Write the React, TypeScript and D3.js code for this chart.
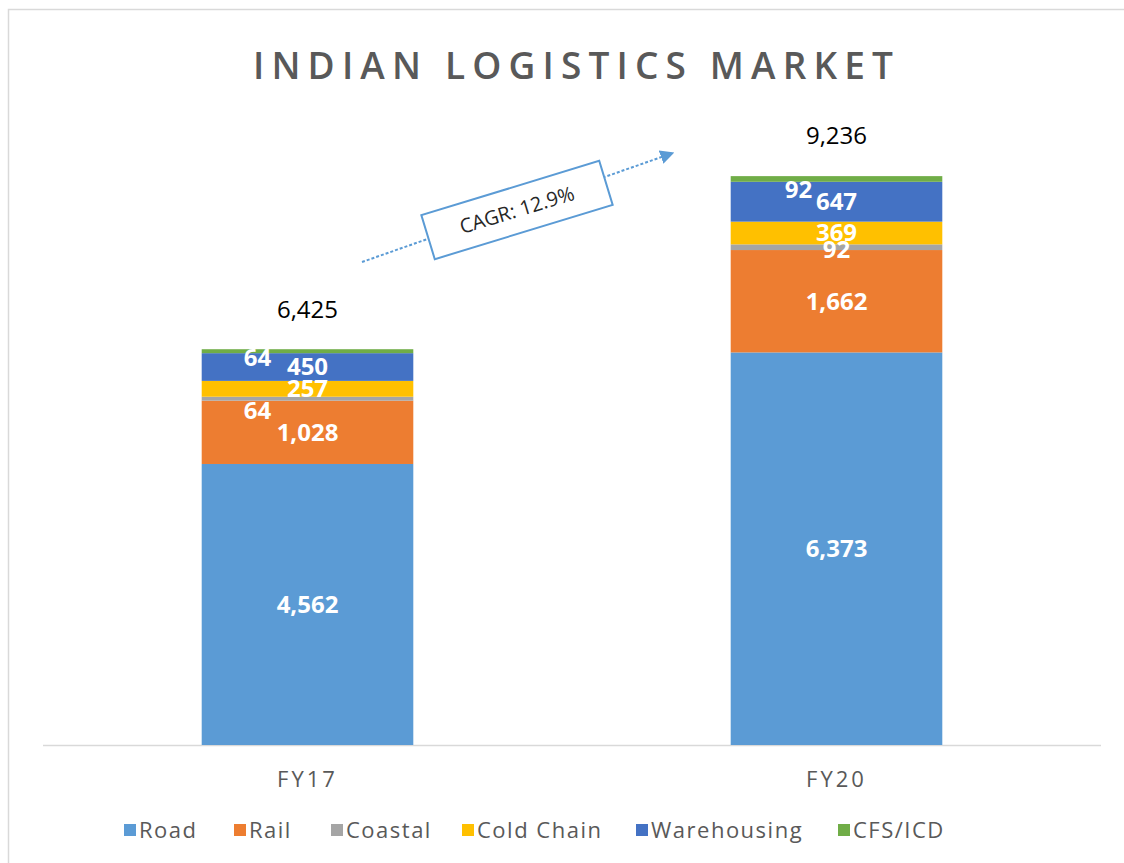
import React from "react";
import * as d3 from "d3";

const categories = ["FY17", "FY20"];
const seriesNames = ["Road", "Rail", "Coastal", "Cold Chain", "Warehousing", "CFS/ICD"];
const seriesColors = ["#5B9BD5", "#ED7D31", "#A5A5A5", "#FFC000", "#4472C4", "#70AD47"];
const road = [4562, 6373];
const rail = [1028, 1662];
const coastal = [64, 92];
const coldChain = [257, 369];
const warehousing = [450, 647];
const cfsIcd = [64, 92];
const totals = [6425, 9236];
const cagrLabel = "CAGR: 12.9%";
const titleText = "INDIAN LOGISTICS MARKET";

// label nudges for tiny segments (series index -> per category [dx, dy])
const labelNudge: Record<number, [number, number][]> = {
  2: [[-50, 12], [0, 2]],
  5: [[-50, 6], [-38, 11]],
};

const legendX = [124, 234, 331, 462, 636, 838];

export default function App() {
  const W = 1124, H = 863;
  const baseY = 745;
  const x = d3.scaleBand().domain(categories).range([43, 1101]).paddingInner(0.6).paddingOuter(0.3);
  const y = d3.scaleLinear().domain([0, 10000]).range([baseY, baseY - 616]);

  const rows = categories.map((c, i) => ({
    cat: c,
    Road: road[i],
    Rail: rail[i],
    Coastal: coastal[i],
    "Cold Chain": coldChain[i],
    Warehousing: warehousing[i],
    "CFS/ICD": cfsIcd[i],
  }));
  const stack = d3.stack<any>().keys(seriesNames)(rows);
  const fmt = d3.format(",");

  const font = "'Open Sans', 'Noto Sans', sans-serif";

  // CAGR arrow geometry
  const ax1 = 362, ay1 = 262, ax2 = 673, ay2 = 153;
  const cx = 517, cy = 210;

  return (
    <svg width={W} height={H} style={{ position: "absolute", left: 0, top: 0, background: "#fff" }}>
      <defs>
        <marker id="arr" viewBox="0 0 10 10" refX="9" refY="5" markerWidth="7" markerHeight="7" orient="auto">
          <path d="M0,0 L10,5 L0,10 z" fill="#5B9BD5" />
        </marker>
      </defs>
      <rect x={8.5} y={9.5} width={1300} height={1000} fill="#fff" stroke="#d9d9d9" strokeWidth={1.5} />
      <text x={573} y={79} textAnchor="middle" fontFamily={font} fontSize={37} fontWeight={600}
        fill="#595959" textLength={640} lengthAdjust="spacing">{titleText}</text>

      <line x1={43} x2={1101} y1={baseY + 0.5} y2={baseY + 0.5} stroke="#d9d9d9" strokeWidth={1.5} />

      {stack.map((s, si) => (
        <g key={s.key}>
          {s.map((d, ci) => (
            <rect key={ci} x={x(categories[ci])} width={x.bandwidth()} y={y(d[1])}
              height={y(d[0]) - y(d[1])} fill={seriesColors[si]} />
          ))}
        </g>
      ))}

      {stack.map((s, si) => (
        <g key={"l" + s.key}>
          {s.map((d, ci) => {
            const nud = labelNudge[si] ? labelNudge[si][ci] : [0, 0];
            const lx = (x(categories[ci]) as number) + x.bandwidth() / 2 + nud[0];
            const ly = (y(d[0]) + y(d[1])) / 2 + nud[1];
            return (
              <text key={ci} x={lx} y={ly} dy="0.35em" textAnchor="middle" fontFamily={font}
                fontSize={24} fontWeight={700} fill="#fff">{fmt(d[1] - d[0])}</text>
            );
          })}
        </g>
      ))}

      {totals.map((t, ci) => (
        <text key={"t" + ci} x={(x(categories[ci]) as number) + x.bandwidth() / 2} y={y(t) - 40}
          dy="0.35em" textAnchor="middle" fontFamily={font} fontSize={24} fill="#000">{fmt(t)}</text>
      ))}

      {categories.map((c) => (
        <text key={"c" + c} x={(x(c) as number) + x.bandwidth() / 2} y={779} dy="0.35em"
          textAnchor="middle" fontFamily={font} fontSize={22} letterSpacing={3} fill="#595959">{c}</text>
      ))}

      <line x1={ax1} y1={ay1} x2={ax2} y2={ay2} stroke="#5B9BD5" strokeWidth={2}
        strokeDasharray="3 2" markerEnd="url(#arr)" />
      <g transform={`translate(${cx},${cy}) rotate(-17)`}>
        <rect x={-93} y={-23} width={186} height={46} fill="#fff" stroke="#5B9BD5" strokeWidth={2} />
        <text x={0} y={0} dy="0.35em" textAnchor="middle" fontFamily={font} fontSize={20} fill="#262626">{cagrLabel}</text>
      </g>

      {seriesNames.map((n, i) => (
        <g key={"lg" + n} transform={`translate(${legendX[i]},830)`}>
          <rect x={0} y={-6} width={12} height={12} fill={seriesColors[i]} />
          <text x={15} y={0} dy="0.35em" fontFamily={font} fontSize={22} letterSpacing={1.5} fill="#595959">{n}</text>
        </g>
      ))}
    </svg>
  );
}
